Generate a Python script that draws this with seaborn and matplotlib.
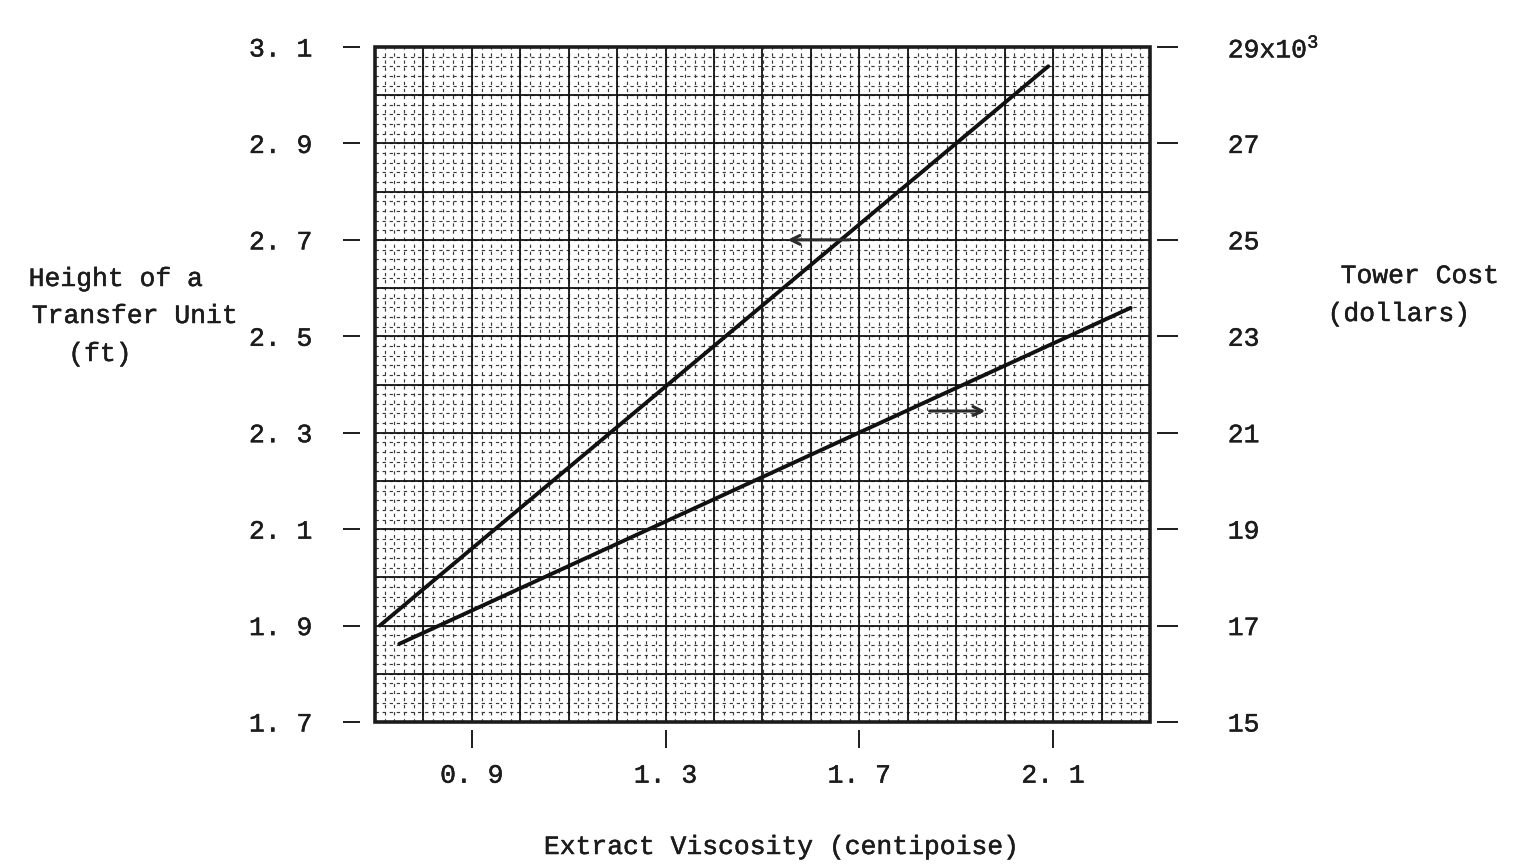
import numpy as np
import matplotlib
matplotlib.use("Agg")
import matplotlib.pyplot as plt
import matplotlib.patheffects as pe
from matplotlib.patches import Rectangle
import seaborn as sns

# Height of a transfer unit vs. extract viscosity (left axis)
viscosity_htu = [0.71, 2.09]
htu_ft = [1.90, 3.06]

# Tower cost vs. extract viscosity (right axis, thousands of dollars)
viscosity_cost = [0.75, 2.26]
tower_cost_k = [16.62, 23.59]

x_ticks = [0.9, 1.3, 1.7, 2.1]
x_tick_labels = ["0. 9", "1. 3", "1. 7", "2. 1"]
htu_ticks = [1.7, 1.9, 2.1, 2.3, 2.5, 2.7, 2.9, 3.1]
htu_tick_labels = ["1. 7", "1. 9", "2. 1", "2. 3", "2. 5", "2. 7", "2. 9", "3. 1"]
cost_ticks = [15, 17, 19, 21, 23, 25, 27, 29]
cost_tick_labels = ["15", "17", "19", "21", "23", "25", "27", "29x10$^{3}$"]

sns.set_style("white")
plt.rcParams["font.family"] = ["Liberation Mono", "DejaVu Sans"]
plt.rcParams["mathtext.fontset"] = "custom"
plt.rcParams["mathtext.rm"] = "Liberation Mono"
plt.rcParams["mathtext.it"] = "Liberation Mono"
plt.rcParams["mathtext.default"] = "regular"

INK = "#1c1c1c"
ink_fx = [pe.withStroke(linewidth=0.35, foreground=INK)]

W, H = 1524, 865
fig = plt.figure(figsize=(W / 100, H / 100), dpi=100)
ax = fig.add_axes([375 / W, 1 - 722 / H, 775 / W, 675 / H])
ax2 = ax.twinx()

xmin, xmax, ymin, ymax = 0.7, 2.3, 1.7, 3.1
ax.set_xlim(xmin, xmax)
ax.set_ylim(ymin, ymax)
ax2.set_ylim(15, 29)

# graph-paper background: fine dashed rulings every 0.02, heavy every 0.1
fine_x = np.arange(xmin, xmax + 1e-9, 0.02)
fine_y = np.arange(ymin, ymax + 1e-9, 0.02)
heavy_x = np.arange(xmin, xmax + 1e-9, 0.1)
heavy_y = np.arange(ymin, ymax + 1e-9, 0.1)
dash = (0, (2.8, 3.2))
ax.vlines(fine_x, ymin, ymax, colors="#3a3a3a", lw=0.85, linestyles=dash, zorder=0)
ax.hlines(fine_y, xmin, xmax, colors="#3a3a3a", lw=0.85, linestyles=dash, zorder=0)
ax.vlines(heavy_x, ymin, ymax, colors="#111111", lw=1.3, zorder=1)
ax.hlines(heavy_y, xmin, xmax, colors="#111111", lw=1.3, zorder=1)

sns.lineplot(x=viscosity_htu, y=htu_ft, ax=ax, color="#111111", lw=2.8, zorder=4)
sns.lineplot(x=viscosity_cost, y=tower_cost_k, ax=ax2, color="#111111", lw=2.8, zorder=4)

# direction arrows telling which curve belongs to which axis
ax.annotate("", xy=(1.552, 2.70), xytext=(1.68, 2.70),
            arrowprops=dict(arrowstyle="->", lw=2.2, color="#2a2a2a",
                            mutation_scale=16, shrinkA=0, shrinkB=0), zorder=5)
ax2.annotate("", xy=(1.96, 21.45), xytext=(1.845, 21.45),
             arrowprops=dict(arrowstyle="->", lw=2.2, color="#2a2a2a",
                             mutation_scale=16, shrinkA=0, shrinkB=0), zorder=5)

for a in (ax, ax2):
    for s in a.spines.values():
        s.set_visible(False)
    a.set_xlabel("")
    a.set_ylabel("")

ax2.add_patch(Rectangle((0, 0), 1, 1, transform=ax2.transAxes, fill=False,
                        lw=2.6, ec=INK, zorder=6, clip_on=False))

# detached tick marks
ax.spines["left"].set_position(("outward", 11))
ax.spines["bottom"].set_position(("outward", 6))
ax2.spines["right"].set_position(("outward", 5))

ax.set_xticks(x_ticks, x_tick_labels)
ax.set_yticks(htu_ticks, htu_tick_labels)
ax2.set_yticks(cost_ticks, cost_tick_labels)

ax.tick_params(axis="y", which="major", left=True, right=False, direction="out",
               length=12, width=1.4, pad=22, labelsize=19, colors=INK)
ax.tick_params(axis="x", which="major", bottom=True, top=False, direction="out",
               length=13, width=1.4, pad=11, labelsize=19, colors=INK)
ax2.tick_params(axis="y", which="major", left=False, right=True, direction="out",
                length=15, width=1.4, pad=36, labelsize=19, colors=INK)
for lab in ax.get_xticklabels() + ax.get_yticklabels() + ax2.get_yticklabels():
    lab.set_path_effects(ink_fx)


def put(text, x, y, ha="center"):
    fig.text(x / W, 1 - y / H, text, ha=ha, va="center", fontsize=19,
             color=INK, path_effects=ink_fx)


put("Height of a", 116, 279)
put("Transfer Unit", 135, 316)
put("(ft)", 100, 354)
put("Tower Cost", 1420, 276)
put("(dollars)", 1399, 314)
put("Extract Viscosity (centipoise)", 782, 847)

fig.savefig("out.png", dpi=100, facecolor="white")
